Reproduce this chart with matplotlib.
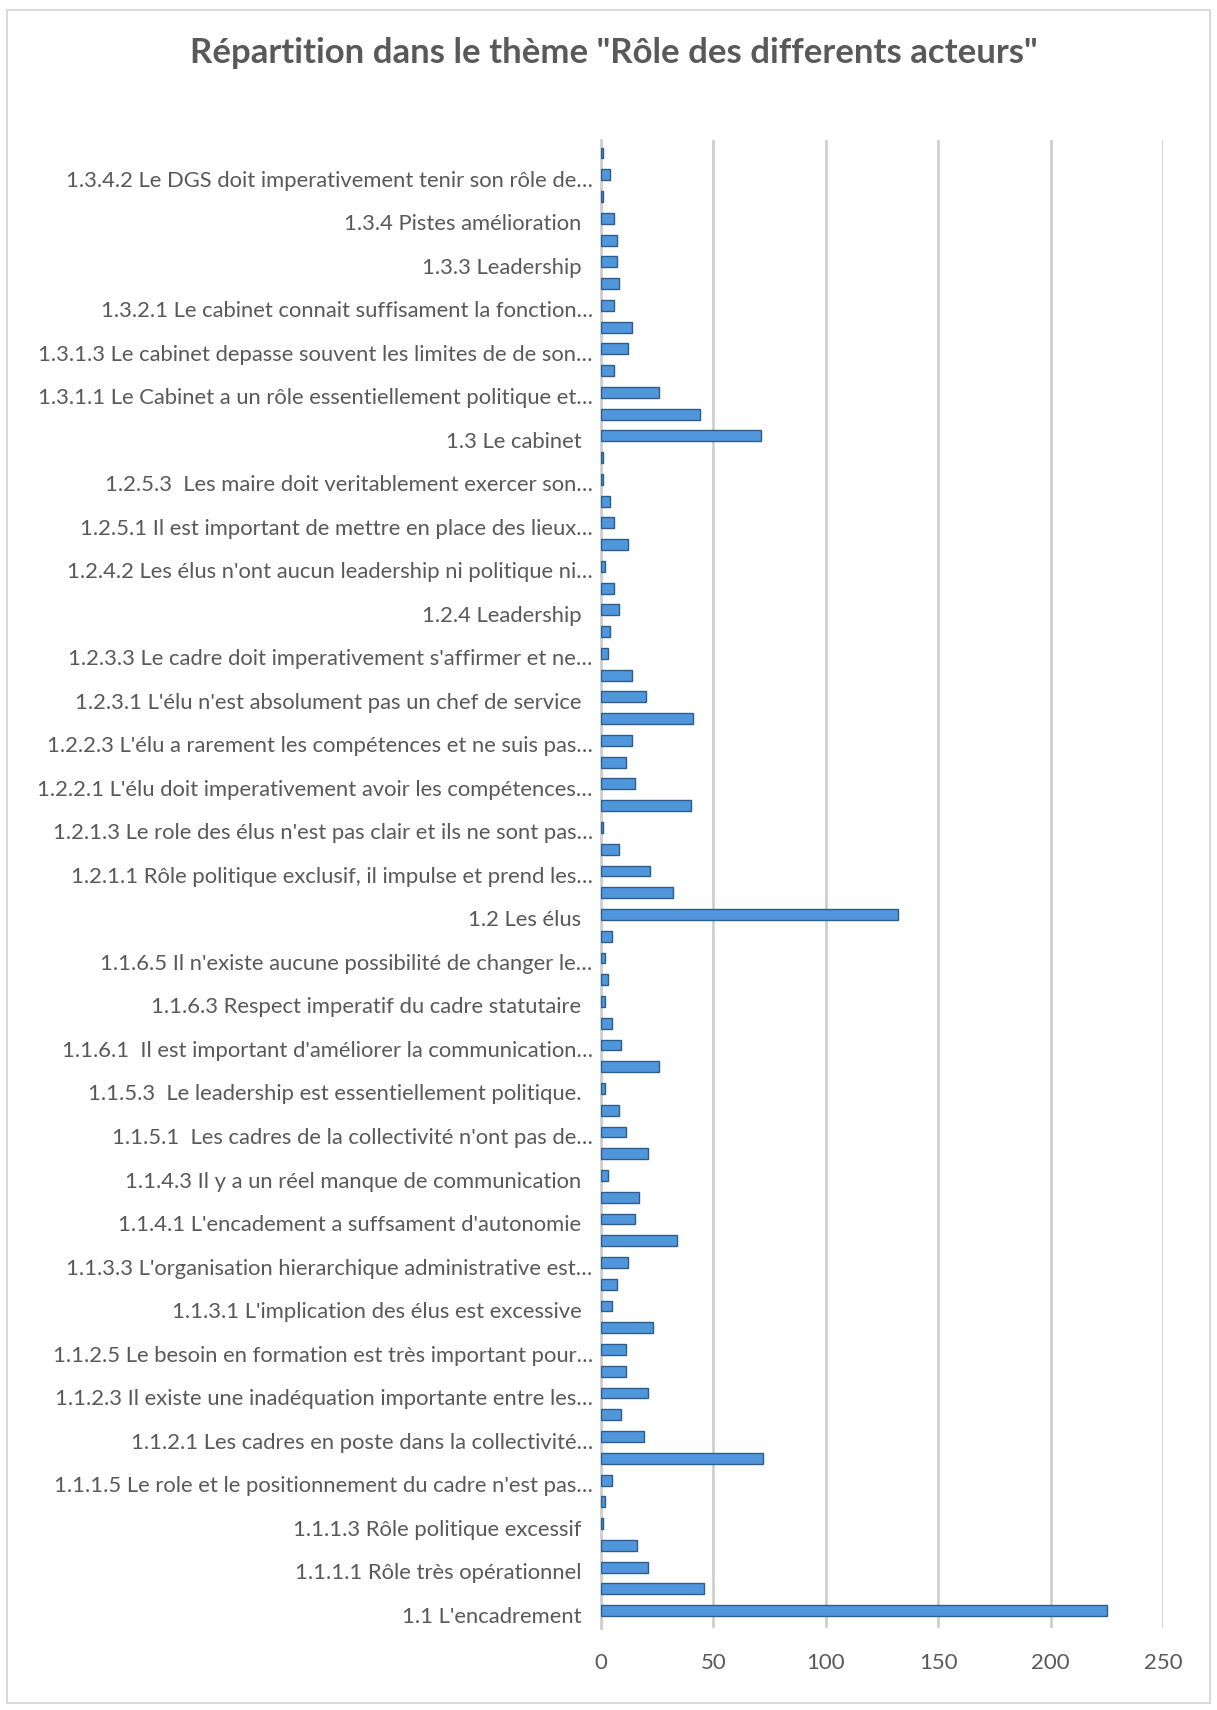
import matplotlib.pyplot as plt
import matplotlib
from matplotlib.patches import FancyBboxPatch
from matplotlib.transforms import ScaledTranslation

matplotlib.use('Agg')

# categories from bottom to top (every other one is shown on the axis, as in the original)
codes = ['1.1', '1.1.1', '1.1.1.1', '1.1.1.2', '1.1.1.3', '1.1.1.4', '1.1.1.5', '1.1.2',
         '1.1.2.1', '1.1.2.2', '1.1.2.3', '1.1.2.4', '1.1.2.5', '1.1.3', '1.1.3.1', '1.1.3.2',
         '1.1.3.3', '1.1.4', '1.1.4.1', '1.1.4.2', '1.1.4.3', '1.1.5', '1.1.5.1', '1.1.5.2',
         '1.1.5.3', '1.1.6', '1.1.6.1', '1.1.6.2', '1.1.6.3', '1.1.6.4', '1.1.6.5', '1.1.6.6',
         '1.2', '1.2.1', '1.2.1.1', '1.2.1.2', '1.2.1.3', '1.2.2', '1.2.2.1', '1.2.2.2',
         '1.2.2.3', '1.2.3', '1.2.3.1', '1.2.3.2', '1.2.3.3', '1.2.3.4', '1.2.4', '1.2.4.1',
         '1.2.4.2', '1.2.5', '1.2.5.1', '1.2.5.2', '1.2.5.3', '1.2.5.4', '1.3', '1.3.1',
         '1.3.1.1', '1.3.1.2', '1.3.1.3', '1.3.2', '1.3.2.1', '1.3.2.2', '1.3.3', '1.3.3.1',
         '1.3.4', '1.3.4.1', '1.3.4.2', '1.3.4.3']

shown_labels = [
    "1.1 L'encadrement  ",
    "1.1.1.1 Rôle très opérationnel  ",
    "1.1.1.3 Rôle politique excessif  ",
    "1.1.1.5 Le role et le positionnement du cadre n'est pas…",
    "1.1.2.1 Les cadres en poste dans la collectivité…",
    "1.1.2.3 Il existe une inadéquation importante entre les…",
    "1.1.2.5 Le besoin en formation est très important pour…",
    "1.1.3.1 L'implication des élus est excessive  ",
    "1.1.3.3 L'organisation hierarchique administrative est…",
    "1.1.4.1 L'encadement a suffsament d'autonomie  ",
    "1.1.4.3 Il y a un réel manque de communication  ",
    "1.1.5.1  Les cadres de la collectivité n'ont pas de…",
    "1.1.5.3  Le leadership est essentiellement politique.  ",
    "1.1.6.1  Il est important d'améliorer la communication…",
    "1.1.6.3 Respect imperatif du cadre statutaire  ",
    "1.1.6.5 Il n'existe aucune possibilité de changer le…",
    "1.2 Les élus  ",
    "1.2.1.1 Rôle politique exclusif, il impulse et prend les…",
    "1.2.1.3 Le role des élus n'est pas clair et ils ne sont pas…",
    "1.2.2.1 L'élu doit imperativement avoir les compétences…",
    "1.2.2.3 L'élu a rarement les compétences et ne suis pas…",
    "1.2.3.1 L'élu n'est absolument pas un chef de service  ",
    "1.2.3.3 Le cadre doit imperativement s'affirmer et ne…",
    "1.2.4 Leadership  ",
    "1.2.4.2 Les élus n'ont aucun leadership ni politique ni…",
    "1.2.5.1 Il est important de mettre en place des lieux…",
    "1.2.5.3  Les maire doit veritablement exercer son…",
    "1.3 Le cabinet  ",
    "1.3.1.1 Le Cabinet a un rôle essentiellement politique et…",
    "1.3.1.3 Le cabinet depasse souvent les limites de de son…",
    "1.3.2.1 Le cabinet connait suffisament la fonction…",
    "1.3.3 Leadership  ",
    "1.3.4 Pistes amélioration  ",
    "1.3.4.2 Le DGS doit imperativement tenir son rôle de…",
]

values = [225, 46, 21, 16, 1, 2, 5, 72, 19, 9, 21, 11, 11, 23, 5, 7,
          12, 34, 15, 17, 3, 21, 11, 8, 2, 26, 9, 5, 2, 3, 2, 5,
          132, 32, 22, 8, 1, 40, 15, 11, 14, 41, 20, 14, 3, 4, 8, 6,
          2, 12, 6, 4, 1, 1, 71, 44, 26, 6, 12, 14, 6, 8, 7, 7,
          6, 1, 4, 1]

xticks = [0, 50, 100, 150, 200, 250]

text_color = '#595959'
plt.rcParams['font.family'] = ['Lato', 'DejaVu Sans']

fig = plt.figure(figsize=(12.17, 17.10), dpi=100)
fig.patches.append(FancyBboxPatch((0.006, 0.004), 0.988, 0.99, boxstyle='square,pad=0',
                                  transform=fig.transFigure, fill=False,
                                  edgecolor='#d9d9d9', linewidth=1.5))
ax = fig.add_axes([601 / 1217, 1 - 1628 / 1710, (1163 - 601) / 1217, (1628 - 140) / 1710])

pos = list(range(len(values)))
ax.barh(pos, values, height=0.5, color='#4f96db', edgecolor='#2f5d8a', linewidth=1.0, zorder=3)

ax.set_xlim(0, 250)
ax.set_ylim(-0.8, len(values) - 0.4)
ax.set_xticks(xticks)
ax.set_xticklabels([str(t) for t in xticks], fontsize=16, color=text_color)
ax.tick_params(axis='x', length=0, pad=18)
ax.set_yticks(pos[::2])
ax.set_yticklabels(shown_labels, fontsize=15.8, color=text_color)
ax.tick_params(axis='y', length=0, pad=6)
# labels sit a touch below the bars in the original (3D look)
shift = ScaledTranslation(0, -4 / 100, fig.dpi_scale_trans)
for lbl in ax.get_yticklabels():
    lbl.set_transform(lbl.get_transform() + shift)

ax.grid(axis='x', color='#cfcfcf', linewidth=2, zorder=0)
for side in ['top', 'right', 'bottom']:
    ax.spines[side].set_visible(False)
ax.spines['left'].set_color('#cfcfcf')
ax.spines['left'].set_linewidth(2)

fig.text(0.504, 1 - 53 / 1710, 'Répartition dans le thème "Rôle des differents acteurs"',
         ha='center', va='center', fontsize=25, fontweight='bold', color=text_color)

fig.savefig('out.png', dpi=100, facecolor='white')
